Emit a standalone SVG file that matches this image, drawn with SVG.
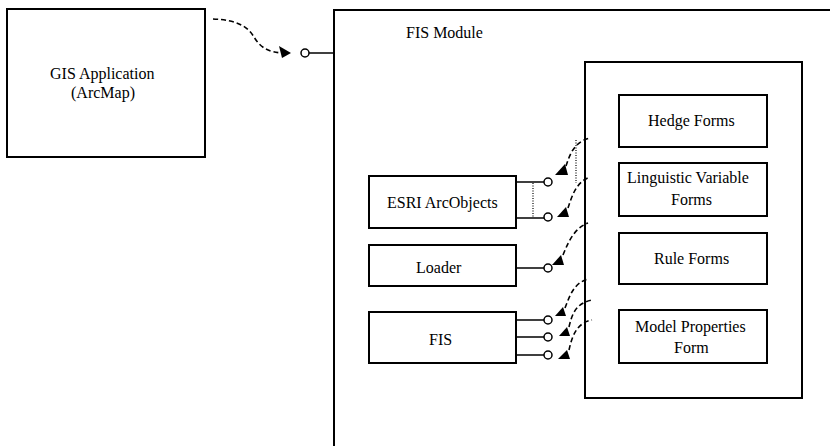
<svg xmlns="http://www.w3.org/2000/svg" width="830" height="446" viewBox="0 0 830 446">
  <style>
    .box { fill: #fff; stroke: #000; stroke-width: 2; }
    .frame { fill: none; stroke: #000; stroke-width: 2; }
    .wire { fill: none; stroke: #000; stroke-width: 1.5; }
    .dash { fill: none; stroke: #000; stroke-width: 1.6; stroke-dasharray: 5 3; }
    .dot { fill: none; stroke: #000; stroke-width: 1.2; stroke-dasharray: 1 1.5; }
    .sock { fill: #fff; stroke: #000; stroke-width: 1.5; }
    .head { fill: #000; stroke: none; }
  </style>

  <!-- Application on the left -->
  <g id="gis-application">
    <rect class="box" x="7" y="9" width="198" height="148"/>
    <text x="50" y="79" font-family="Liberation Serif" font-size="16">GIS Application</text>
    <text x="71" y="98" font-family="Liberation Serif" font-size="16">(ArcMap)</text>
  </g>

  <!-- Module frame (open to the right and bottom) -->
  <g id="fis-module">
    <path class="frame" d="M334,446 V10 H830"/>
    <text x="406" y="38" font-family="Liberation Serif" font-size="16">FIS Module</text>
  </g>

  <!-- Forms container -->
  <g id="forms">
    <rect class="box" x="585" y="62" width="217" height="336"/>
  </g>
  <g id="hedge-forms">
    <rect class="box" x="619" y="95" width="148" height="52"/>
    <text x="648" y="126" font-family="Liberation Serif" font-size="16">Hedge Forms</text>
  </g>
  <g id="linguistic-variable-forms">
    <rect class="box" x="619" y="163" width="148" height="53"/>
    <text x="627" y="183" font-family="Liberation Serif" font-size="16">Linguistic Variable</text>
    <text x="671" y="205" font-family="Liberation Serif" font-size="16">Forms</text>
  </g>
  <g id="rule-forms">
    <rect class="box" x="619" y="233" width="148" height="51"/>
    <text x="654" y="264" font-family="Liberation Serif" font-size="16">Rule Forms</text>
  </g>
  <g id="model-properties-form">
    <rect class="box" x="619" y="310" width="148" height="53"/>
    <text x="635" y="332" font-family="Liberation Serif" font-size="16">Model Properties</text>
    <text x="674" y="353" font-family="Liberation Serif" font-size="16">Form</text>
  </g>

  <!-- Components -->
  <g id="esri-arcobjects">
    <rect class="box" x="369" y="176" width="147" height="52"/>
    <text x="387" y="208" font-family="Liberation Serif" font-size="16">ESRI ArcObjects</text>
  </g>
  <g id="loader">
    <rect class="box" x="369" y="245" width="147" height="41"/>
    <text x="416" y="273" font-family="Liberation Serif" font-size="16">Loader</text>
  </g>
  <g id="fis">
    <rect class="box" x="369" y="312" width="147" height="51"/>
    <text x="429" y="345" font-family="Liberation Serif" font-size="16">FIS</text>
  </g>

  <!-- Interfaces and dependencies -->
  <g id="connectors">
    <!-- module interface used by the application -->
    <path class="wire" d="M309,53 H334"/>
    <circle class="sock" cx="305" cy="53" r="4"/>
    <path class="dash" d="M213,19 C238,20 248,27 254,37 C261,49 270,52 282,53"/>
    <polygon class="head" points="291,53 279,46 282,58"/>

    <!-- ArcObjects interfaces -->
    <path class="wire" d="M516,182 H544 M516,218 H544"/>
    <circle class="sock" cx="548" cy="182" r="4"/>
    <circle class="sock" cx="548" cy="217" r="4"/>
    <path class="dot" d="M533,183 V217"/>
    <path class="dash" d="M566,166 C570,154 574,142 590,138"/>
    <polygon class="head" points="555,175 565,164 568,175"/>
    <path class="dot" d="M576,140 V183"/>
    <path class="dash" d="M568,208 C572,196 576,182 590,177"/>
    <polygon class="head" points="557,217 566,207 569,217"/>

    <!-- Loader interface -->
    <path class="wire" d="M516,268 H544"/>
    <circle class="sock" cx="548" cy="268" r="4"/>
    <path class="dash" d="M563,255 C569,240 575,228 588,223"/>
    <polygon class="head" points="552,265 561,255 564,265"/>

    <!-- FIS interfaces -->
    <path class="wire" d="M516,320 H544 M516,337 H544 M516,355 H544"/>
    <circle class="sock" cx="548" cy="320" r="4"/>
    <circle class="sock" cx="548" cy="337" r="4"/>
    <circle class="sock" cx="548" cy="355" r="4"/>
    <path class="dash" d="M565,308 C570,295 574,283 588,279"/>
    <polygon class="head" points="555,316 563,307 566,316"/>
    <path class="dash" d="M569,327 C572,314 576,303 592,300"/>
    <polygon class="head" points="559,336 567,327 570,336"/>
    <path class="dash" d="M569,350 C572,337 576,323 592,320"/>
    <polygon class="head" points="558,359 567,350 570,359"/>
  </g>
</svg>
